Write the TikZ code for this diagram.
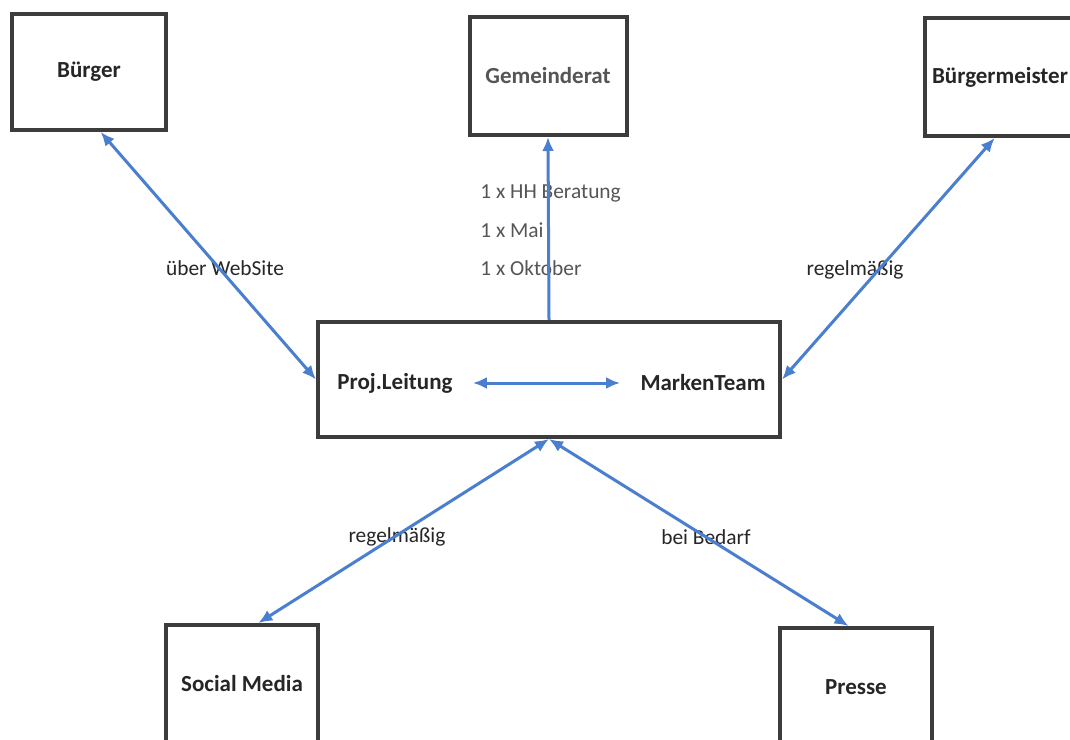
\documentclass[tikz,border=0pt]{standalone}
\usepackage{fontspec}
\setmainfont{Carlito}
\usepackage{xcolor}
\usetikzlibrary{arrows.meta}

\definecolor{linkblue}{HTML}{4A7FD0}
\definecolor{boxgray}{HTML}{3C3C3C}
\definecolor{textgray}{HTML}{555555}

\begin{document}
\begin{tikzpicture}
    [
      x=0.5pt, y=-0.5pt,
      party/.style={draw=boxgray,line width=2pt,fill=white,minimum width=77pt,minimum height=58pt,
        font=\fontsize{11.5}{13}\selectfont\bfseries,text=black!85},
      actor/.style={inner xsep=10pt,font=\fontsize{11.5}{13}\selectfont\bfseries,text=black!85},
      note/.style={font=\fontsize{10.7}{12}\selectfont,text=black!85,inner sep=1pt},
      link/.style={<->,>={Latex[length=7pt,width=6pt]},draw=linkblue,line width=1.5pt},
      uplink/.style={->,>={Latex[length=7pt,width=6pt]},draw=linkblue,line width=1.5pt},
    ]

    \useasboundingbox (0,0) rectangle (1070,739);
    \clip (0,0) rectangle (1070,739);
    \fill [white] (0,0) rectangle (1070,739);

    \node (buerger) [party] at (89,72) {Bürger};
    \node (rat) [party,text=textgray,minimum width=78.5pt,minimum height=59pt] at (548,76) {Gemeinderat};
    \node (meister) [party,minimum width=75pt,minimum height=59pt] at (1000,77) {Bürgermeister}; % box runs off the page
    \node (team) [party,minimum width=231pt,minimum height=57.5pt] at (549,379.5) {};
    \node (proj) [actor] at (395,383) {Proj.Leitung};
    \node (marken) [actor] at (703,383) {MarkenTeam};
    \node (social) [party,minimum width=76pt,minimum height=59pt] at (242,684) {Social Media};
    \node (presse) [party,minimum width=76pt,minimum height=59pt] at (856,687) {Presse};

    \node (web) [note] at (225,268) {über WebSite};
    \node (hh) [note,anchor=west,text=textgray] at (478,193) {1 x HH Beratung};
    \node (mai) [note,anchor=west,text=textgray] at (478,230) {1 x Mai};
    \node (okt) [note,anchor=west,text=textgray] at (478,268) {1 x Oktober};
    \node (regel) [note] at (855,270) {regelmäßig};
    \node (sozregel) [note] at (397,537) {regelmäßig};
    \node (bedarf) [note] at (706,537) {bei Bedarf};

    \path
    (buerger.-79) edge [link] (team.west)
    (team.north) edge [uplink] (rat.south)
    (team.east) edge [link] (meister.-95)
    (proj) edge [link] (marken)
    (team.south) edge [link] (social.75)
    (team.south) edge [link] (presse.97)
    ;

  \end{tikzpicture}
\end{document}
